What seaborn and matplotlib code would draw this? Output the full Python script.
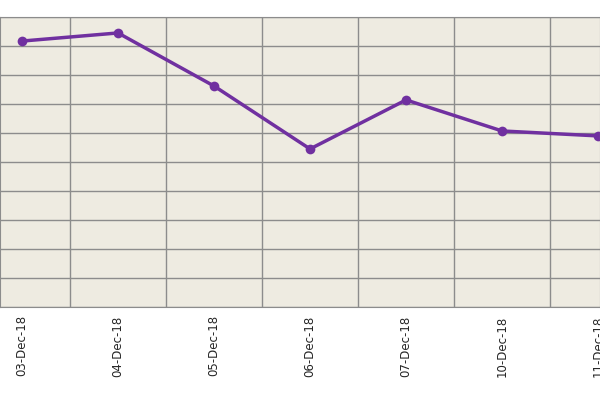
import matplotlib
matplotlib.use("Agg")
import matplotlib.pyplot as plt
import seaborn as sns
import pandas as pd
from matplotlib.ticker import FixedLocator, MultipleLocator

dates = ["03-Dec-18", "04-Dec-18", "05-Dec-18", "06-Dec-18", "07-Dec-18", "10-Dec-18", "11-Dec-18"]
values = [9.17, 9.45, 7.62, 5.45, 7.14, 6.07, 5.90]

df = pd.DataFrame({"x": range(len(dates)), "v": values})

sns.set_style("white")
fig = plt.figure(figsize=(6, 4), dpi=100)
ax = fig.add_axes([0.0, 0.2325, 1.0, 0.725])
ax.set_facecolor("#EEEBE1")
sns.lineplot(data=df, x="x", y="v", ax=ax, color="#7030A0", linewidth=2.5,
             marker="o", markersize=7, markeredgewidth=0)
ax.set_xlim(-0.229, 6.02)
ax.set_ylim(0, 10)
ax.yaxis.set_major_locator(MultipleLocator(1))
ax.xaxis.set_major_locator(FixedLocator(range(len(dates))))
ax.set_xticklabels(dates, rotation=90, fontsize=8.5)
ax.xaxis.set_minor_locator(FixedLocator([i + 0.5 for i in range(-1, len(dates))]))
ax.grid(False)
ax.grid(True, which="minor", axis="x", color="#8C8C8C", linewidth=1)
ax.grid(True, which="major", axis="y", color="#8C8C8C", linewidth=1)
ax.tick_params(axis="x", which="both", length=0, pad=6)
ax.set_yticklabels([])
ax.tick_params(axis="y", length=0)
ax.set_xlabel("")
ax.set_ylabel("")
for s in ax.spines.values():
    s.set_color("#8C8C8C")
fig.savefig("out.png")
